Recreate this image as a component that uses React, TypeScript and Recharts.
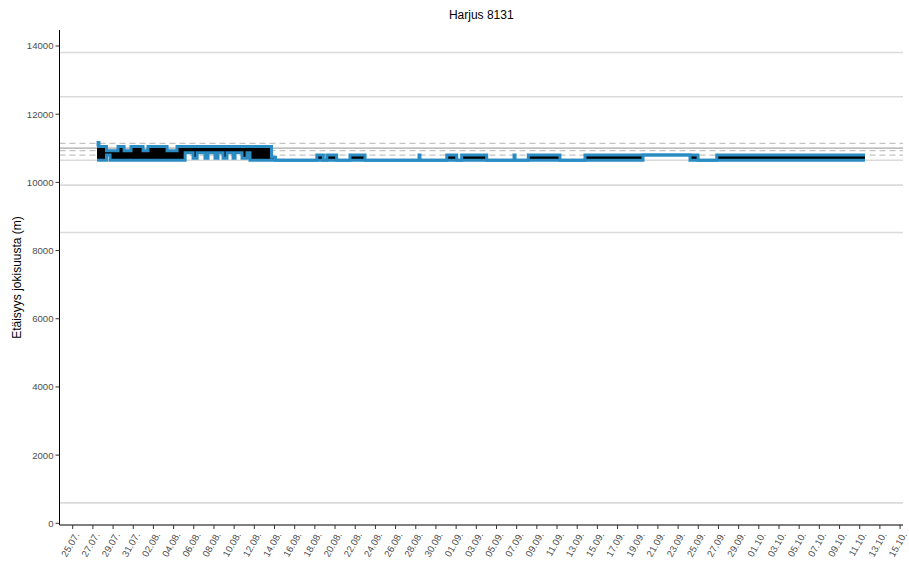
import { ComposedChart, Area, XAxis, YAxis, ReferenceLine, Label } from "recharts";

// tick labels every second day, starting 25.07.
const tickLabels = [
  "25.07.", "27.07.", "29.07.", "31.07.", "02.08.", "04.08.", "06.08.", "08.08.", "10.08.", "12.08.",
  "14.08.", "16.08.", "18.08.", "20.08.", "22.08.", "24.08.", "26.08.", "28.08.", "30.08.", "01.09.",
  "03.09.", "05.09.", "07.09.", "09.09.", "11.09.", "13.09.", "15.09.", "17.09.", "19.09.", "21.09.",
  "23.09.", "25.09.", "27.09.", "29.09.", "01.10.", "03.10.", "05.10.", "07.10.", "09.10.", "11.10.",
  "13.10.", "15.10.",
];
const yTicks = [0, 2000, 4000, 6000, 8000, 10000, 12000, 14000];

// receiver / site distances (m)
const siteLines = [600, 8530, 9920, 10650, 12510, 13810];
const mainSite = [11005];
const dashedSites = [10800, 10930, 11145];

// detections: days since 25.07., min and max distance between breaks
const breakDays = [
  2.41, 2.51, 2.6, 3.35, 3.7, 4.49, 5.09, 5.78, 6.97, 7.46, 9.35, 10.34, 11.14, 11.93, 12.33, 13.11,
  13.41, 14.1, 14.4, 14.9, 15.29, 15.89, 16.09, 16.78, 17.28, 17.57, 19.7, 20.1, 24.19, 24.84, 25.18,
  26.16, 27.48, 28.97, 34.32, 34.42, 37.07, 38.06, 38.55, 41.03, 43.74, 43.84, 45.15, 48.29, 50.77,
  56.52, 61.18, 61.98, 63.83, 78.52,
];
const lowM = [
  10650, 10650, 10650, 10800, 10650, 10650, 10650, 10650, 10650, 10650, 10650, 10650,
  10870, 10710, 10870, 10710, 10870, 10710, 10870, 10710, 10870, 10710, 10870, 10710, 10870,
  10650, 10650, 10650, 10650, 10650, 10650, 10650, 10650, 10650, 10650, 10650, 10650, 10650,
  10650, 10650, 10650, 10650, 10650, 10650, 10650, 10800, 10650, 10650, 10650,
];
const highM = [
  11050, 11170, 11050, 10930, 10930, 11050, 10930, 11050, 10930, 11050, 10930, 11050,
  11050, 11050, 11050, 11050, 11050, 11050, 11050, 11050, 11050, 11050, 11050, 11050, 11050,
  11050, 10740, 10650, 10800, 10650, 10800, 10650, 10800, 10650, 10800, 10650, 10800, 10650,
  10800, 10650, 10800, 10650, 10800, 10650, 10800, 10800, 10800, 10650, 10800,
];

const track = lowM.flatMap((lo, i) => [
  { day: breakDays[i], range: [lo, highM[i]] },
  { day: breakDays[i + 1], range: [lo, highM[i]] },
]);

const font = "'Liberation Sans', Arial, sans-serif";

const DateTick = (props: any) => {
  const { x, y, payload } = props;
  const ax = x + 1;
  const ay = y;
  return (
    <text
      x={ax}
      y={ay}
      transform={`rotate(-60 ${ax} ${ay})`}
      textAnchor="end"
      dominantBaseline="hanging"
      fontSize={9.6}
      fontFamily={font}
      fill="#4d4d4d"
    >
      {tickLabels[payload.index]}
    </text>
  );
};

export default function App() {
  return (
    <div style={{ position: "absolute", left: 0, top: 0, width: 909, height: 562, background: "#fff" }}>
      <div
        style={{
          position: "absolute",
          left: 59.5,
          width: 843.5,
          top: 8,
          textAlign: "center",
          fontFamily: font,
          fontSize: 12,
          lineHeight: "14px",
          color: "#000",
        }}
      >
        Harjus 8131
      </div>
      <ComposedChart
        width={909}
        height={562}
        data={track}
        margin={{ top: 30, right: 6, bottom: 7, left: 0 }}
      >
        {siteLines.map((v) => (
          <ReferenceLine key={"s" + v} y={v} stroke="#dadada" strokeWidth={1.6} zIndex={-50} />
        ))}
        {mainSite.map((v) => (
          <ReferenceLine key={"m" + v} y={v} stroke="#a8a8a8" strokeWidth={1.4} zIndex={-50} />
        ))}
        {dashedSites.map((v) => (
          <ReferenceLine key={"d" + v} y={v} stroke="#c4c4c4" strokeWidth={1.2} strokeDasharray="6 4" zIndex={-50} />
        ))}
        <XAxis
          dataKey="day"
          type="number"
          domain={[-1.31, 82.29]}
          ticks={tickLabels.map((_, i) => i * 2)}
          interval={0}
          height={30}
          tickSize={4}
          tickMargin={2}
          tick={<DateTick />}
          axisLine={{ stroke: "#000", strokeWidth: 1 }}
          tickLine={{ stroke: "#333" }}
        />
        <YAxis
          type="number"
          domain={[-50, 14470]}
          ticks={yTicks}
          interval={0}
          width={59.5}
          tickSize={4}
          tickMargin={2}
          tick={{ fontSize: 9.6, fill: "#4d4d4d", fontFamily: font }}
          axisLine={{ stroke: "#000", strokeWidth: 1 }}
          tickLine={{ stroke: "#333" }}
        >
          <Label
            content={(p: any) => {
              const vb = p.viewBox || { y: 30, height: 495 };
              const cx = 16.5;
              const cy = vb.y + vb.height / 2;
              return (
                <text
                  x={cx}
                  y={cy}
                  transform={`rotate(-90 ${cx} ${cy})`}
                  textAnchor="middle"
                  dominantBaseline="central"
                  fontSize={12}
                  fontFamily={font}
                  fill="#000"
                >
                  Etäisyys jokisuusta (m)
                </text>
              );
            }}
          />
        </YAxis>
        <Area
          dataKey="range"
          type="linear"
          stroke="#2b8cc4"
          strokeWidth={3}
          fill="#000"
          fillOpacity={1}
          dot={false}
          activeDot={false}
          isAnimationActive={false}
          zIndex={600}
        />
      </ComposedChart>
    </div>
  );
}
